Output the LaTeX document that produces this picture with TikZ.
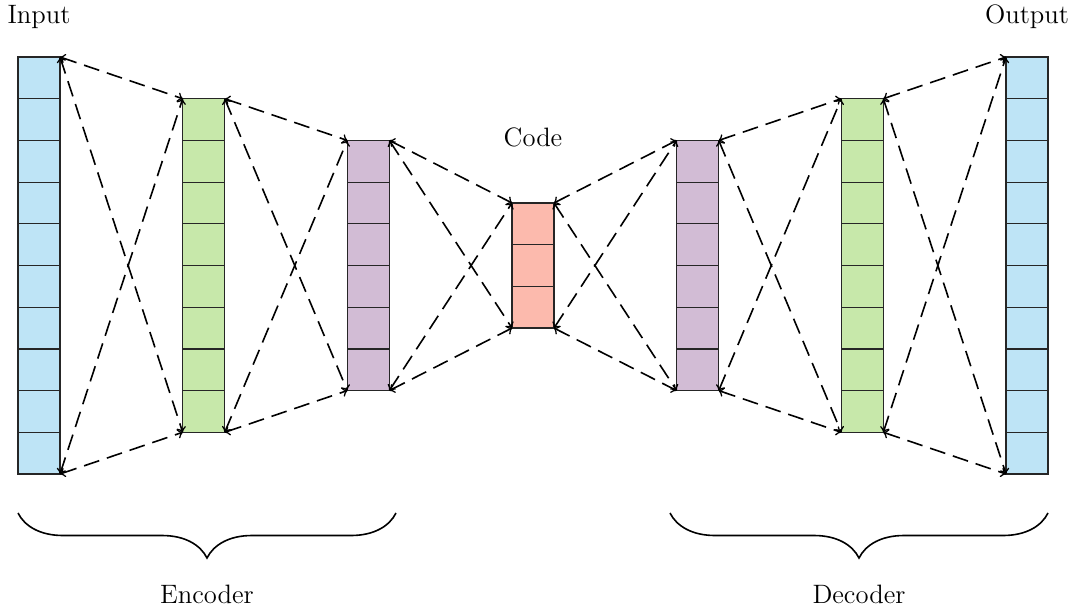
\documentclass[tikz,border=0pt]{standalone}
\usetikzlibrary{decorations.pathreplacing}

\definecolor{inblue}{RGB}{190,228,246}
\definecolor{encgreen}{RGB}{199,232,170}
\definecolor{midpurple}{RGB}{210,188,213}
\definecolor{codered}{RGB}{252,186,173}

\tikzset{
  cell/.style={draw=black!85, line width=0.6pt, minimum width=21pt,
    minimum height=20.85pt, inner sep=0pt, outer sep=0pt},
  link/.style={<->, >=to, dash pattern=on 8pt off 4pt, line width=0.8pt},
  caption/.style={font=\fontsize{13.3}{16}\selectfont, anchor=base},
  groupbrace/.style={decorate, decoration={brace, mirror, amplitude=22.5pt},
    line width=0.8pt}
}

\begin{document}
\begin{tikzpicture}[x=0.5pt, y=-0.5pt]
    \useasboundingbox (0,0) rectangle (1080,615);
    % layers of cells
    \foreach \name/\x/\n/\col in {in/39/10/inblue, enA/203.7/8/encgreen,
        enB/368.3/6/midpurple, code/533/3/codered, deB/697.7/6/midpurple,
        deA/862.3/8/encgreen, out/1027/10/inblue}
      \foreach \i in {1,...,\n}
        \node[cell, fill=\col] (\name-\i) at (\x, {265.5 + (\i - 0.5 - \n/2)*41.7}) {};
    % links between layers
    \foreach \a/\na/\b/\nb in {in/10/enA/8, enA/8/enB/6, enB/6/code/3,
        code/3/deB/6, deB/6/deA/8, deA/8/out/10} {
      \draw[link] (\a-1.north east) -- (\b-1.north west);
      \draw[link] (\a-1.north east) -- (\b-\nb.south west);
      \draw[link] (\a-\na.south east) -- (\b-1.north west);
      \draw[link] (\a-\na.south east) -- (\b-\nb.south west);
    }
    \node[caption] (inlabel) at (39,24) {Input};
    \node[caption] (outlabel) at (1027,24) {Output};
    \node[caption] (codelabel) at (533,147) {Code};
    % braces
    \coordinate (encL) at (18,513);
    \coordinate (encR) at (396,513);
    \coordinate (decL) at (670,513);
    \coordinate (decR) at (1048,513);
    \draw[groupbrace] (encL) -- (encR);
    \draw[groupbrace] (decL) -- (decR);
    \node[caption] (enclabel) at (207,603) {Encoder};
    \node[caption] (declabel) at (859,603) {Decoder};
\end{tikzpicture}
\end{document}
